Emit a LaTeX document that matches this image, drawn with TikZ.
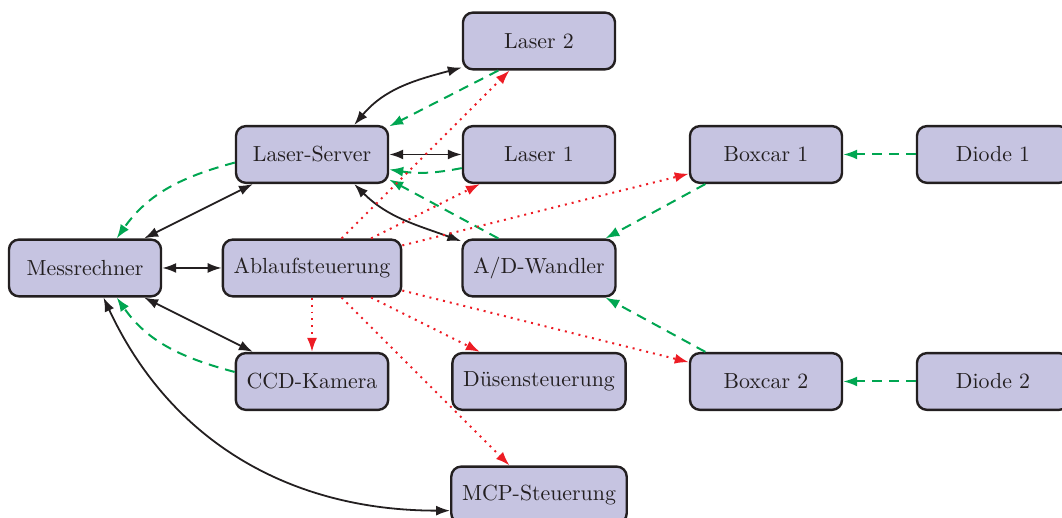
\documentclass[tikz,border=0pt]{standalone}
\usepackage{xcolor}
\usepackage{tikz}
\usetikzlibrary{arrows.meta}

\definecolor{boxfill}{RGB}{198,196,225}
\definecolor{boxline}{RGB}{35,31,32}
\definecolor{ctrlred}{RGB}{237,28,36}
\definecolor{datagreen}{RGB}{0,166,81}

\begin{document}
\begin{tikzpicture}[
    box/.style={draw=boxline, fill=boxfill, line width=1.2pt, rounded corners=5pt,
      minimum width=2.68cm, minimum height=1cm, inner sep=0.19cm, text=boxline,
      font=\fontsize{10.95}{13}\selectfont},
    link/.style={{Latex[length=7pt,width=5pt]}-{Latex[length=7pt,width=5pt]}, line width=0.9pt, boxline},
    data/.style={-{Latex[length=7pt,width=5pt]}, line width=1pt, datagreen, dash pattern=on 5pt off 3.5pt},
    ctrl/.style={-{Latex[length=7pt,width=5pt]}, line width=1pt, ctrlred, dash pattern=on 1pt off 2.5pt}]
  \useasboundingbox (-1.498,-4.405) rectangle (17.216,4.722);

  \node [box] (mess)    at (0, 0)   {Messrechner};
  \node [box] (server)  at (4, 2)   {Laser-Server};
  \node [box] (ablauf)  at (4, 0)   {Ablaufsteuerung};
  \node [box] (ccd)     at (4, -2)  {CCD-Kamera};
  \node [box] (laser2)  at (8, 4)   {Laser 2};
  \node [box] (laser1)  at (8, 2)   {Laser 1};
  \node [box] (ad)      at (8, 0)   {A/D-Wandler};
  \node [box] (duese)   at (8, -2)  {Düsensteuerung};
  \node [box] (mcp)     at (8, -4)  {MCP-Steuerung};
  \node [box] (boxcar1) at (12, 2)  {Boxcar 1};
  \node [box] (boxcar2) at (12, -2) {Boxcar 2};
  \node [box] (diode1)  at (16, 2)  {Diode 1};
  \node [box] (diode2)  at (16, -2) {Diode 2};

  % two-way links
  \draw [link] (mess) -- (server);
  \draw [link] (mess) -- (ablauf);
  \draw [link] (mess) -- (ccd);
  \draw [link] (mess.-58) to [out=-65,in=180] (mcp.190);
  \draw [link] (server.35) to [out=50,in=195] (laser2.199);
  \draw [link] (server) -- (laser1);
  \draw [link] (server.-35) to [out=-45,in=160] (ad.161);

  % data flow
  \draw [data] (server.186) to [out=195,in=55] (mess.43);
  \draw [data] (ccd.173) to [out=165,in=-55] (mess.-43);
  \draw [data] (laser2.216) -- (server.20);
  \draw [data] (laser1.190) to [bend left=10] (server.-11);
  \draw [data] (ad.144) -- (server.-18);
  \draw [data] (boxcar1.206) -- (ad.24);
  \draw [data] (boxcar2.154) -- (ad.-24);
  \draw [data] (diode1) -- (boxcar1);
  \draw [data] (diode2) -- (boxcar2);

  % control lines
  \foreach \t in {laser2,laser1,boxcar1,ccd,duese,mcp,boxcar2}
    \draw [ctrl] (ablauf) -- (\t);
\end{tikzpicture}
\end{document}
